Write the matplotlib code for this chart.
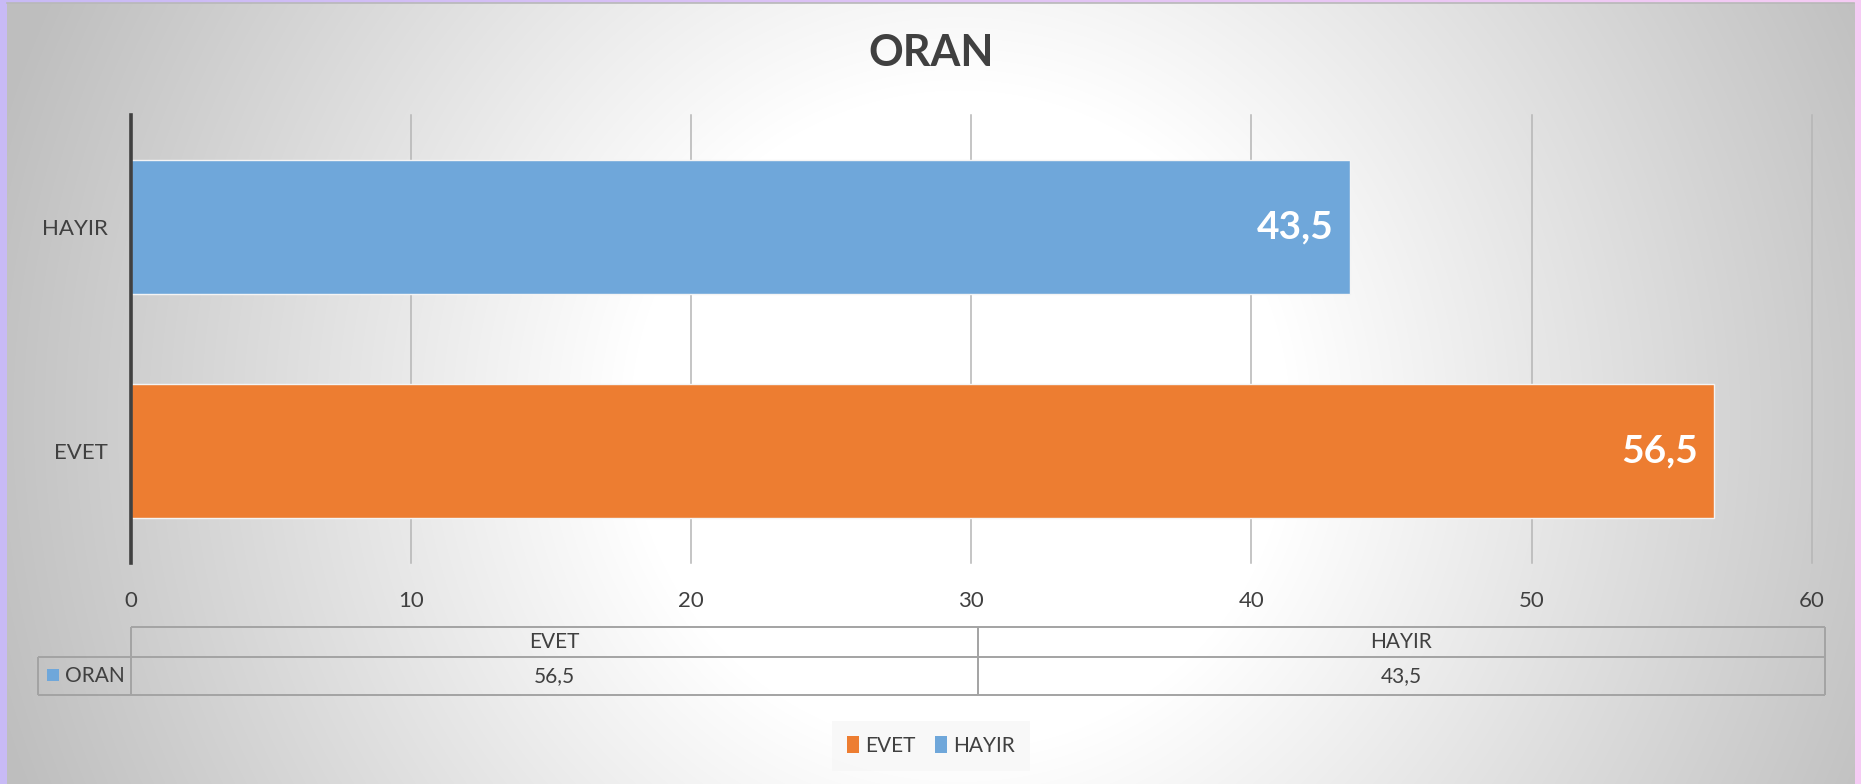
import numpy as np
import matplotlib
matplotlib.use("Agg")
import matplotlib.pyplot as plt
from matplotlib.patches import Rectangle, Patch
from matplotlib.lines import Line2D

# ---- data ----
categories = ["EVET", "HAYIR"]
values = [56.5, 43.5]
bar_colors = ["#ED7D31", "#6FA7DA"]
series_name = "ORAN"
title = "ORAN"
xticks = [0, 10, 20, 30, 40, 50, 60]

plt.rcParams['font.family'] = ['Lato', 'DejaVu Sans']

W, H = 1861, 784
DPI = 100
fig = plt.figure(figsize=(W / DPI, H / DPI), dpi=DPI)

def fx(x):
    return x / W

def fy(y):
    return 1 - y / H

# ---- background ----
bg = fig.add_axes([0, 0, 1, 1])
bg.set_axis_off()
yy, xx = np.mgrid[0:H, 0:W].astype(float)
tx = xx / W
outer = np.zeros((H, W, 3))
c1 = np.array([200, 186, 246]) / 255
c2 = np.array([246, 204, 244]) / 255
for k in range(3):
    outer[..., k] = c1[k] * (1 - tx) + c2[k] * tx
r = np.hypot(xx - 960, yy - 420)
t = np.clip((r - 330) / 680, 0, 1)
g = (255 - t * (255 - 190)) / 255
inside = (xx >= 7) & (xx <= 1854) & (yy >= 3)
img = outer.copy()
for k in range(3):
    img[..., k] = np.where(inside, g, outer[..., k])
bg.imshow(img, extent=[0, W, H, 0], aspect='auto', interpolation='bilinear')
bg.set_xlim(0, W)
bg.set_ylim(H, 0)
bg.plot([7, 1854], [3, 3], color='#b8b8b8', lw=1.2)

# ---- main axes ----
x0, x1 = 130.5, 1812
y0, y1 = 115, 563
ax = fig.add_axes([fx(x0), fy(y1), fx(x1) - fx(x0), fy(y0) - fy(y1)])
ax.set_facecolor('none')
pos = np.arange(len(categories))
bars = ax.barh(pos, values, height=0.6, color=bar_colors,
               edgecolor='#f4f4f4', linewidth=1.0, zorder=3)
ax.set_xlim(0, 60)
ax.set_ylim(-0.5, len(categories) - 0.5)
ax.set_xticks(xticks)
ax.set_xticklabels([str(v) for v in xticks])
ax.set_yticks(pos)
ax.set_yticklabels(categories)
ax.tick_params(axis='x', length=0, pad=20, labelsize=16, labelcolor='#404040')
ax.tick_params(axis='y', length=0, pad=16, labelsize=16, labelcolor='#404040')
ax.xaxis.grid(True, color='#b5b5b5', lw=1.1, zorder=1)
ax.set_axisbelow(True)
for ln in ax.get_xgridlines():
    ln.set_clip_on(False)
for s in ['top', 'right', 'bottom']:
    ax.spines[s].set_visible(False)
ax.spines['left'].set_color('#404040')
ax.spines['left'].set_linewidth(2.6)
ax.spines['left'].set_zorder(5)

for p, v in zip(pos, values):
    ax.annotate(f"{v:.1f}".replace('.', ','), xy=(v, p), xytext=(-11.5, 0),
                textcoords='offset points', ha='right', va='center',
                color='white', fontsize=28, fontweight='bold', zorder=6)

# ---- title ----
fig.text(fx(931), fy(53), title, ha='center', va='center', fontsize=31,
         fontweight='bold', color='#404040')

# ---- data table ----
tl, tr = 130.5, 1825
hl = 38
ty0, ty1, ty2 = 627, 656.5, 695
tc = '#a3a3a3'
tlw = 1.4
def hline(y, xa, xb):
    bg.plot([xa, xb], [y, y], color=tc, lw=tlw, solid_capstyle='butt')
def vline(x, ya, yb):
    bg.plot([x, x], [ya, yb], color=tc, lw=tlw, solid_capstyle='butt')
hline(ty0, tl, tr)
hline(ty1, hl, tr)
hline(ty2, hl, tr)
vline(hl, ty1, ty2)
ncol = len(categories)
colw = (tr - tl) / ncol
for i in range(ncol + 1):
    vline(tl + i * colw, ty0, ty2)
for i, (c, v) in enumerate(zip(categories, values)):
    cx = tl + (i + 0.5) * colw
    bg.text(cx, (ty0 + ty1) / 2, c, ha='center', va='center', fontsize=15, color='#404040')
    bg.text(cx, (ty1 + ty2) / 2, f"{v:.1f}".replace('.', ','), ha='center', va='center',
            fontsize=15, color='#404040')
bg.add_patch(Rectangle((47, 669), 12, 12, facecolor=bar_colors[1], edgecolor='none'))
bg.text(65, (ty1 + ty2) / 2, series_name, ha='left', va='center', fontsize=15, color='#404040')

# ---- legend ----
handles = [Patch(facecolor=c, edgecolor='none') for c in bar_colors]
leg = fig.legend(handles, categories, loc='center', bbox_to_anchor=(fx(931), fy(746)),
                 ncol=2, frameon=True, fontsize=15, handlelength=0.6, handleheight=0.9,
                 handletextpad=0.3, columnspacing=0.9, borderpad=0.7, fancybox=False)
leg.get_frame().set_facecolor('#f7f7f7')
leg.get_frame().set_edgecolor('none')
for txt in leg.get_texts():
    txt.set_color('#404040')

fig.savefig('out.png', dpi=DPI)
